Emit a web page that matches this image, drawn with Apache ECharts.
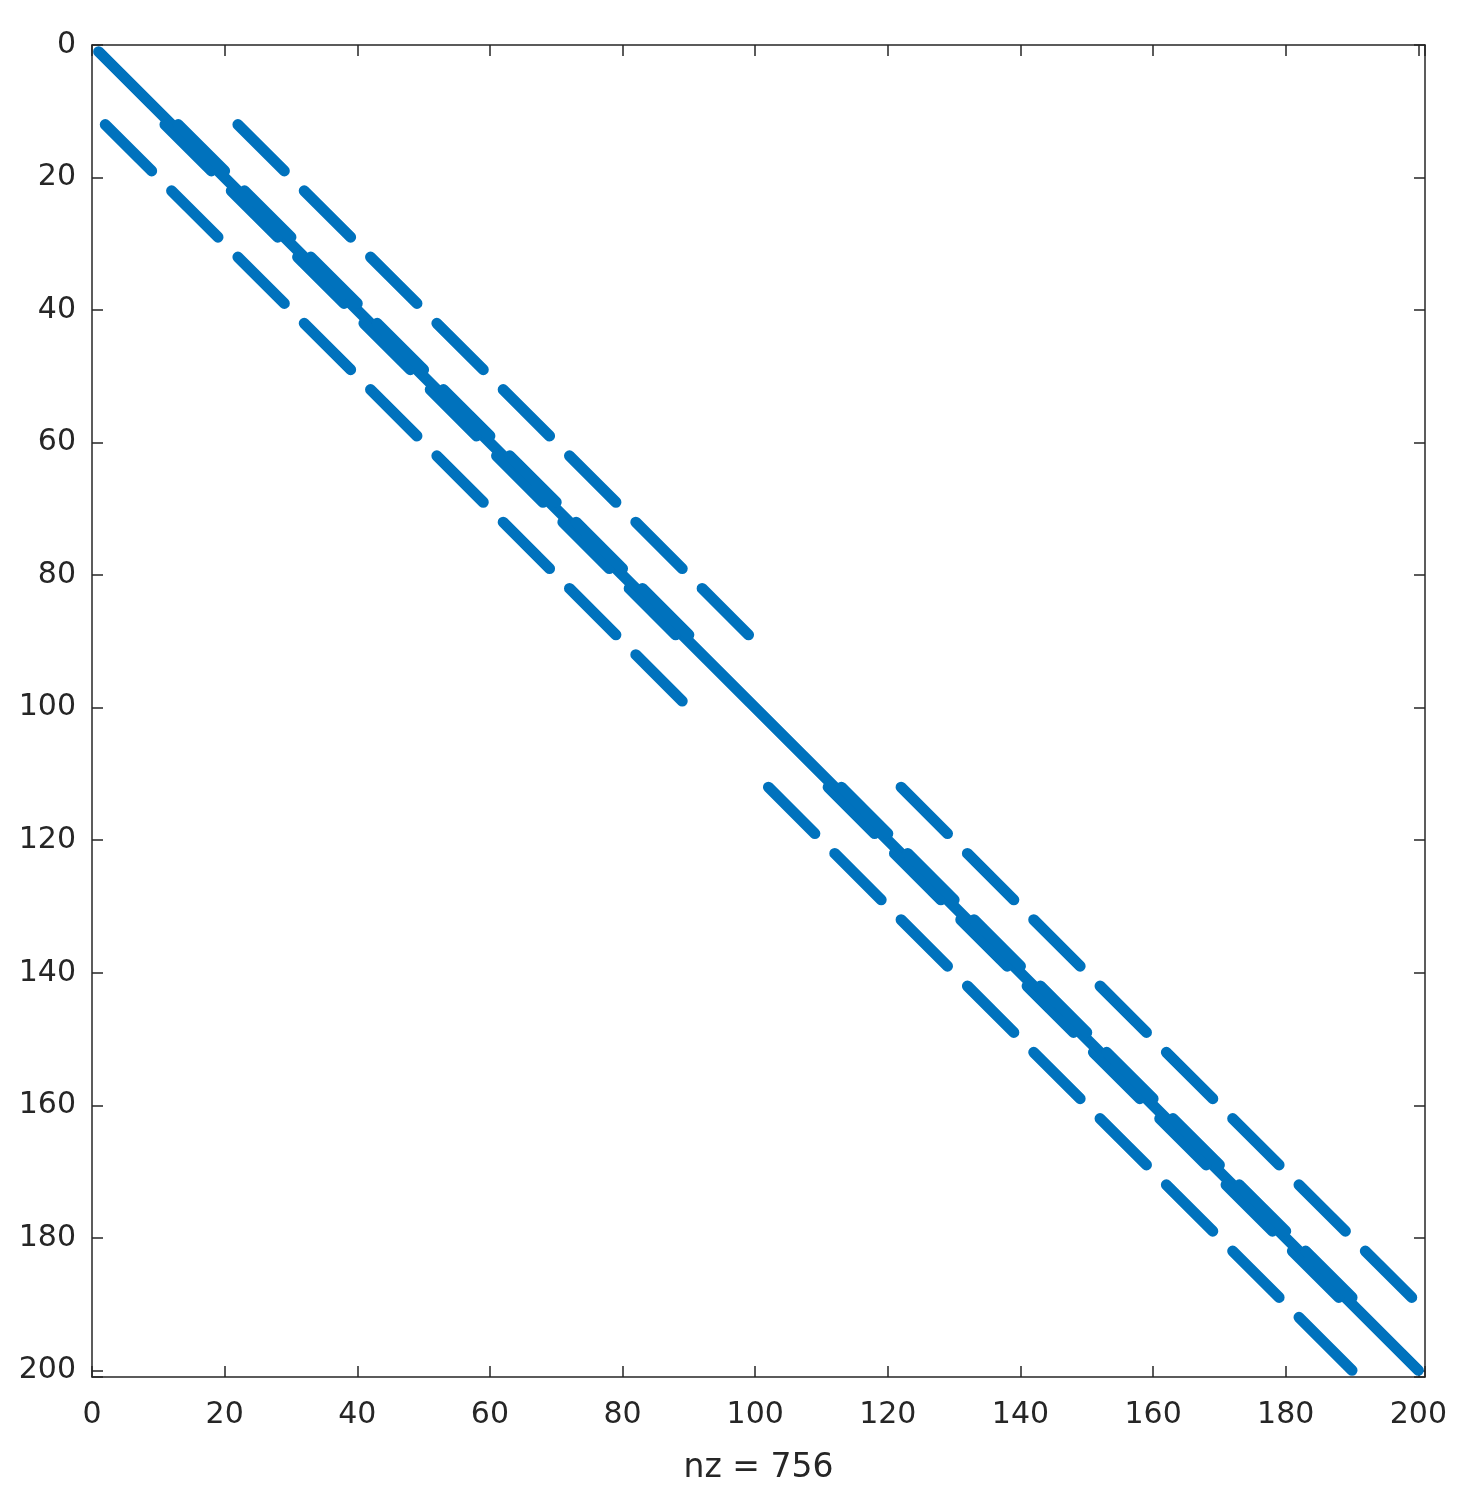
<!DOCTYPE html>
<html>
<head>
<meta charset="utf-8">
<script src="https://cdn.jsdelivr.net/npm/echarts@6/dist/echarts.min.js"></script>
<style>
  html, body { margin: 0; padding: 0; background: #ffffff; }
  #chart { width: 1477px; height: 1510px; }
</style>
</head>
<body>
<div id="chart"></div>
<script>
// ---- Data (1-based row indices of runs of nonzeros) ----
const matrixSize = 200;
const nzCount = 756;
const tickValues = [0, 20, 40, 60, 80, 100, 120, 140, 160, 180, 200];

// main diagonal (offset 0): rows covered
const diagonalRuns = [[1, 200]];
// rows where the entries just left and right of the diagonal (offsets -1, +1) are nonzero
const neighbourRuns = [
  [12, 19], [22, 29], [32, 39], [42, 49], [52, 59], [62, 69], [72, 79], [82, 89],
  [112, 119], [122, 129], [132, 139], [142, 149], [152, 159], [162, 169], [172, 179], [182, 189]
];
// upper band (column = row + 10): rows covered
const upperRuns = [
  [12, 19], [22, 29], [32, 39], [42, 49], [52, 59], [62, 69], [72, 79], [82, 89],
  [112, 119], [122, 129], [132, 139], [142, 149], [152, 159], [162, 169], [172, 179], [182, 189]
];
// lower band (column = row - 10): rows covered
const lowerRuns = [
  [12, 19], [22, 29], [32, 39], [42, 49], [52, 59], [62, 69], [72, 79], [82, 89], [92, 99],
  [112, 119], [122, 129], [132, 139], [142, 149], [152, 159], [162, 169], [172, 179], [182, 189], [192, 200]
];
const bandOffsets = { diagonal: 0, left: -1, right: 1, upper: 10, lower: -10 };

// ---- Build line segments (column, row) from runs ----
function segments(runs, offset) {
  return runs.map(r => ({ coords: [[r[0] + offset, r[0]], [r[1] + offset, r[1]]] }));
}
const segData = []
  .concat(segments(diagonalRuns, bandOffsets.diagonal))
  .concat(segments(neighbourRuns, bandOffsets.left))
  .concat(segments(neighbourRuns, bandOffsets.right))
  .concat(segments(upperRuns, bandOffsets.upper))
  .concat(segments(lowerRuns, bandOffsets.lower));

const axisColor = '#262626';
const fontFamily = 'DejaVu Sans';
const labelFmt = v => (tickValues.indexOf(v) >= 0 ? String(v) : '');

const chart = echarts.init(document.getElementById('chart'), null, { renderer: 'canvas' });
const commonAxis = {
  type: 'value',
  min: 0,
  max: matrixSize + 1,
  interval: 20,
  splitLine: { show: false },
  axisLine: { show: true, onZero: false, lineStyle: { color: axisColor, width: 1.5 } },
  axisTick: { show: true, inside: true, length: 11, lineStyle: { color: axisColor, width: 1.5 } }
};
chart.setOption({
  animation: false,
  backgroundColor: '#ffffff',
  grid: { left: 92, top: 45, width: 1333, height: 1332, containLabel: false },
  xAxis: [
    Object.assign({}, commonAxis, {
      position: 'bottom',
      name: 'nz = ' + nzCount,
      nameLocation: 'middle',
      nameGap: 75,
      nameTextStyle: { color: axisColor, fontSize: 33, fontFamily: fontFamily },
      axisLabel: { show: true, color: axisColor, fontSize: 30, fontFamily: fontFamily, margin: 23, formatter: labelFmt }
    }),
    Object.assign({}, commonAxis, { position: 'top', axisLabel: { show: false } })
  ],
  yAxis: [
    Object.assign({}, commonAxis, {
      position: 'left',
      inverse: true,
      axisLabel: { show: true, color: axisColor, fontSize: 30, fontFamily: fontFamily, margin: 16, formatter: labelFmt }
    }),
    Object.assign({}, commonAxis, { position: 'right', inverse: true, axisLabel: { show: false } })
  ],
  series: [{
    type: 'lines',
    coordinateSystem: 'cartesian2d',
    xAxisIndex: 0,
    yAxisIndex: 0,
    silent: true,
    clip: true,
    lineStyle: { color: '#0072BD', width: 11, opacity: 1, cap: 'round', join: 'round', curveness: 0 },
    data: segData
  }]
});
</script>
</body>
</html>
